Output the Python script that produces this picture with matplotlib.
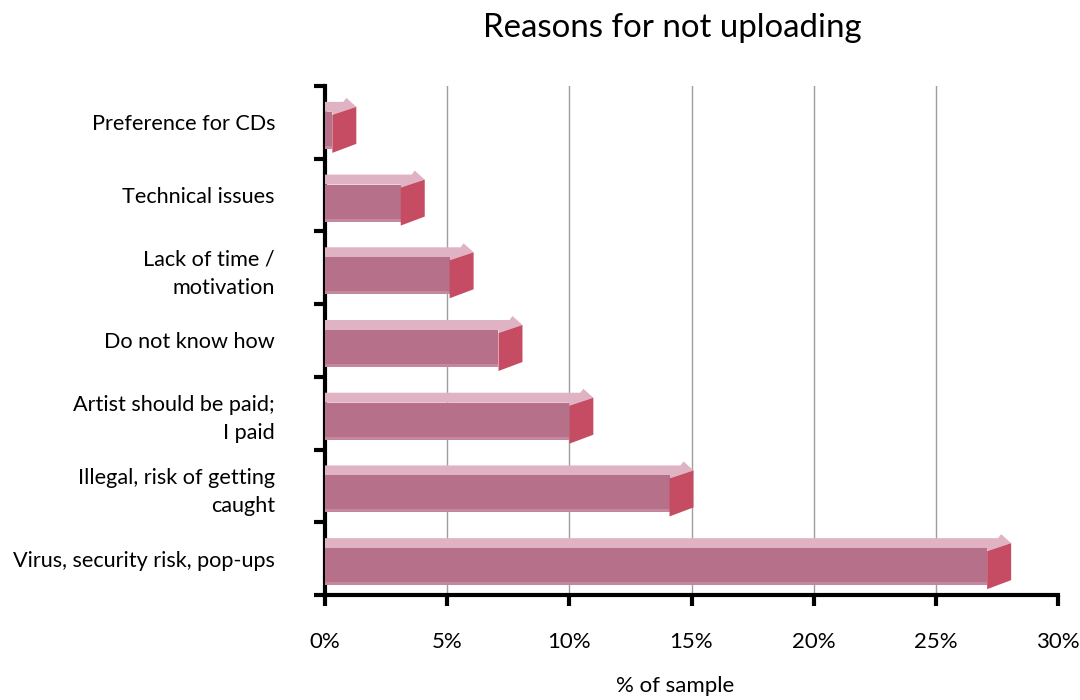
import matplotlib
matplotlib.use("Agg")
import matplotlib.pyplot as plt
from matplotlib.patches import Polygon, Rectangle

plt.rcParams['font.family'] = ['Lato', 'DejaVu Sans']

# Survey data: share of respondents giving each reason (%)
categories = [
    "Preference for CDs",
    "Technical issues",
    "Lack of time /\nmotivation",
    "Do not know how",
    "Artist should be paid;\nI paid",
    "Illegal, risk of getting\ncaught",
    "Virus, security risk, pop-ups",
]
values = [0.3, 3.1, 5.1, 7.1, 10.0, 14.1, 27.1]
x_ticks = [0, 5, 10, 15, 20, 25, 30]
x_tick_labels = ["0%", "5%", "10%", "15%", "20%", "25%", "30%"]

FRONT = "#b7708a"
FRONT_EDGE = "#c4879d"
TOP = "#dfb3c3"
SIDE = "#c64c63"

W, H = 1080, 700
fig = plt.figure(figsize=(W / 100, H / 100), dpi=100)
ax = fig.add_axes([325 / W, 1 - 595 / H, (1058 - 325) / W, (595 - 86) / H])

n = len(categories)
ax.set_xlim(0, 30)
ax.set_ylim(n - 0.5, -0.5)

# pixel -> data scale factors for the 3D extrusion
px_x = 30 / (1058 - 325)
px_y = n / (595 - 86)

depth = 24 * px_x
ft_off = -10.5 * px_y      # front face top relative to band centre
h = 37 * px_y              # front face height
back = 10 * px_y           # top face depth
strip = 3 * px_y

for i, v in enumerate(values):
    ft = i + ft_off
    # top face (with the small arrow-like tip at the back corner)
    top = Polygon([
        (0, ft - back), (v + 11 * px_x, ft - back), (v + 14 * px_x, ft - 14 * px_y),
        (v + depth, ft - 5 * px_y), (v, ft + 3 * px_y), (v, ft), (0, ft)
    ], closed=True, facecolor=TOP, edgecolor="none", zorder=3)
    ax.add_patch(top)
    # front face
    ax.add_patch(Rectangle((0, ft), v, h, facecolor=FRONT, edgecolor="none", zorder=4))
    ax.add_patch(Rectangle((0, ft + h - strip), v, strip, facecolor=FRONT_EDGE,
                           edgecolor="none", zorder=4))
    # right end face
    side = Polygon([
        (v, ft + 3 * px_y), (v + depth, ft - 5 * px_y),
        (v + depth, ft + 32 * px_y), (v, ft + 41 * px_y)
    ], closed=True, facecolor=SIDE, edgecolor="none", zorder=5)
    ax.add_patch(side)

# vertical gridlines
for t in x_ticks[1:-1]:
    ax.axvline(t, color="#9e9e9e", lw=1.0, zorder=1)

# axes styling
for s in ("top", "right"):
    ax.spines[s].set_visible(False)
for s in ("left", "bottom"):
    ax.spines[s].set_linewidth(3)
    ax.spines[s].set_color("black")

ax.set_xticks(x_ticks)
ax.set_xticklabels(x_tick_labels, fontsize=16)
ax.tick_params(axis="x", direction="out", length=8, width=3, pad=19)

# category boundaries carry the tick marks, centres carry the labels
ax.set_yticks([i - 0.5 for i in range(n + 1)])
ax.set_yticklabels([])
ax.tick_params(axis="y", which="major", direction="out", length=8, width=3)
ax.set_yticks(list(range(n)), minor=True)
ax.set_yticklabels(categories, minor=True, fontsize=15.6, linespacing=1.5)
ax.tick_params(axis="y", which="minor", length=0, pad=36)

fig.text(672 / W, 1 - 28 / H, "Reasons for not uploading", ha="center", va="center",
         fontsize=23.8)
fig.text(675 / W, 1 - 686 / H, "% of sample", ha="center", va="center", fontsize=16)

fig.savefig("out.png", dpi=100, facecolor="white")
